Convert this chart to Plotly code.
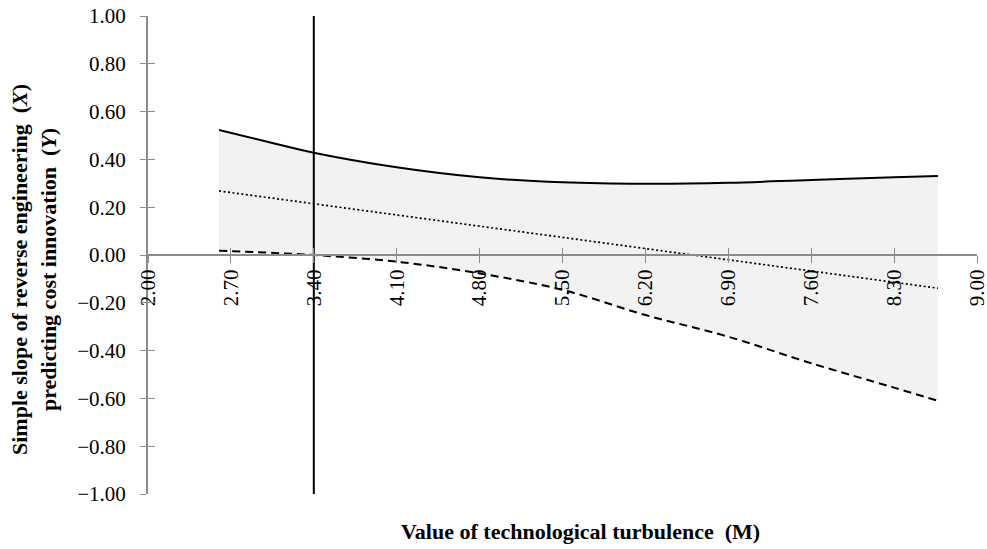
import plotly.graph_objects as go

# Moderator values (technological turbulence, M)
m_values = [2.60, 3.00, 3.40, 4.10, 4.80, 5.50, 6.20, 6.90, 7.60, 8.30, 8.67]
# Simple slope (point estimate) and confidence bounds
slope_mid = [0.268, 0.241, 0.213, 0.168, 0.121, 0.074, 0.027, -0.020, -0.067, -0.114, -0.139]
slope_upper = [0.523, 0.475, 0.428, 0.367, 0.325, 0.304, 0.298, 0.302, 0.314, 0.325, 0.331]
slope_lower = [0.018, 0.010, 0.000, -0.028, -0.077, -0.146, -0.251, -0.342, -0.453, -0.555, -0.610]
# Johnson-Neyman region boundary
jn_point = 3.40

x_ticks = [2.00, 2.70, 3.40, 4.10, 4.80, 5.50, 6.20, 6.90, 7.60, 8.30, 9.00]
y_ticks = [1.00, 0.80, 0.60, 0.40, 0.20, 0.00, -0.20, -0.40, -0.60, -0.80, -1.00]

FONT = "Liberation Serif"
AXIS_COLOR = "#8c8c8c"

fig = go.Figure()

# Confidence band
fig.add_trace(go.Scatter(x=m_values, y=slope_lower, mode="lines", line=dict(width=0, shape="spline"),
                         showlegend=False, hoverinfo="skip"))
fig.add_trace(go.Scatter(x=m_values, y=slope_upper, mode="lines", line=dict(width=0, shape="spline"),
                         fill="tonexty", fillcolor="#f2f2f2", showlegend=False, hoverinfo="skip"))
# Lines
fig.add_trace(go.Scatter(x=m_values, y=slope_upper, mode="lines",
                         line=dict(color="black", width=2, shape="spline"), showlegend=False))
fig.add_trace(go.Scatter(x=m_values, y=slope_mid, mode="lines",
                         line=dict(color="black", width=1.7, dash="2px,2.5px"), showlegend=False))
fig.add_trace(go.Scatter(x=m_values, y=slope_lower, mode="lines",
                         line=dict(color="black", width=2, dash="8px,5px", shape="spline"), showlegend=False))
# Vertical JN line
fig.add_trace(go.Scatter(x=[jn_point, jn_point], y=[y_ticks[-1], y_ticks[0]], mode="lines",
                         line=dict(color="black", width=2), showlegend=False))

fmt = lambda v: (f"{v:.2f}" if v >= 0 else "\u2212" + f"{abs(v):.2f}")

fig.update_layout(
    width=987, height=549,
    margin=dict(l=148, r=10, t=16, b=55, autoexpand=False),
    paper_bgcolor="white", plot_bgcolor="white",
    font=dict(family=FONT, size=21, color="black"),
    xaxis=dict(range=[2, 9], anchor="free", position=0.5, showgrid=False, zeroline=False,
               showline=True, linecolor=AXIS_COLOR, linewidth=2, automargin=False,
               tickvals=x_ticks, ticktext=[f"{v:.2f}" for v in x_ticks], tickangle=-90,
               ticks="outside", ticklen=7, tickcolor=AXIS_COLOR, tickwidth=1,
               ticklabelstandoff=-2, ticklabeloverflow="allow",
               tickfont=dict(family=FONT, size=21, color="black")),
    xaxis2=dict(range=[2, 9], anchor="free", position=0.5, overlaying="x", showgrid=False,
                zeroline=False, showline=False, tickvals=x_ticks, showticklabels=False,
                automargin=False,
                ticks="inside", ticklen=7, tickcolor=AXIS_COLOR, tickwidth=1),
    yaxis=dict(range=[-1, 1], showgrid=False, zeroline=False, showline=True,
               linecolor=AXIS_COLOR, linewidth=2, automargin=False,
               tickvals=y_ticks, ticktext=[fmt(v) for v in y_ticks],
               ticks="outside", ticklen=6, tickcolor=AXIS_COLOR, tickwidth=1,
               ticklabelstandoff=10, ticklabeloverflow="allow",
               tickfont=dict(family=FONT, size=21, color="black")),
    yaxis2=dict(range=[-1, 1], overlaying="y", side="left", showgrid=False, zeroline=False,
                showline=False, tickvals=y_ticks, showticklabels=False, automargin=False,
                ticks="inside", ticklen=7, tickcolor=AXIS_COLOR, tickwidth=1),
    annotations=[
        dict(text="<b>Value of technological turbulence\u00a0\u00a0(M)</b>", xref="paper", yref="paper",
             x=0.5, y=0, xshift=18, yshift=-37, xanchor="center", yanchor="middle", showarrow=False,
             font=dict(family=FONT, size=22, color="black")),
        dict(text="<b>Simple slope of reverse engineering\u00a0\u00a0(<i>X</i>)<br>"
                  "predicting cost innovation\u00a0\u00a0(<i>Y</i>)</b>",
             xref="paper", yref="paper", x=0, y=0.5, xshift=-114, yshift=-15, textangle=-90,
             xanchor="center", yanchor="middle", showarrow=False, align="center",
             font=dict(family=FONT, size=22, color="black")),
    ],
)
# dummy trace to activate overlay axes
fig.add_trace(go.Scatter(x=[None], y=[None], xaxis="x2", yaxis="y2", showlegend=False, hoverinfo="skip"))

fig.write_html("out.html", config={"displayModeBar": False},
               post_script="document.body.style.margin='0';")
